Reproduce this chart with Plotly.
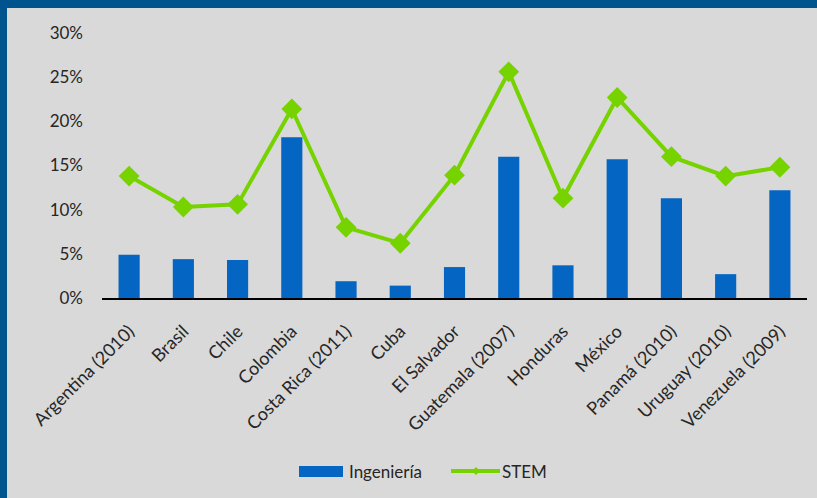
import plotly.graph_objects as go

categories = ["Argentina (2010)", "Brasil", "Chile", "Colombia", "Costa Rica (2011)", "Cuba",
              "El Salvador", "Guatemala (2007)", "Honduras", "México", "Panamá (2010)",
              "Uruguay (2010)", "Venezuela (2009)"]
ingenieria = [0.049, 0.044, 0.043, 0.182, 0.019, 0.014, 0.035, 0.160, 0.037, 0.157, 0.113, 0.027, 0.122]
stem = [0.138, 0.103, 0.106, 0.214, 0.080, 0.062, 0.139, 0.256, 0.113, 0.227, 0.160, 0.138, 0.148]
y_ticks = [0, 0.05, 0.10, 0.15, 0.20, 0.25, 0.30]
y_tick_labels = ["0%", "5%", "10%", "15%", "20%", "25%", "30%"]
series_names = ["Ingeniería", "STEM"]

BLUE = "#0565c2"
GREEN = "#76d300"

W, H = 817, 498
L, R, T, B = 102, 10, 33, 200
pw, ph = W - L - R, H - T - B

def px(x):
    return (x - L) / pw

def py(y):
    return (H - B - y) / ph

fig = go.Figure()
fig.add_trace(go.Bar(x=categories, y=ingenieria, name=series_names[0], showlegend=False,
                     marker=dict(color=BLUE, line=dict(width=0))))
fig.add_trace(go.Scatter(x=categories, y=stem, name=series_names[1], mode="lines+markers",
                         showlegend=False,
                         line=dict(color=GREEN, width=4),
                         marker=dict(symbol="diamond", size=16, color=GREEN)))

# background panel (blue frame visible on left and top)
fig.add_shape(type="rect", xref="paper", yref="paper",
              x0=px(7), x1=px(W + 5), y0=py(H + 5), y1=py(8),
              fillcolor="#d9d9d9", line=dict(width=0), layer="below")

font = dict(family="Lato, 'Open Sans', sans-serif", size=17, color="#262626")
xfont = dict(family="Lato, 'Open Sans', sans-serif", size=18, color="#262626")

# manual legend
fig.add_shape(type="rect", xref="paper", yref="paper",
              x0=px(299), x1=px(343), y0=py(477), y1=py(466),
              fillcolor=BLUE, line=dict(width=0))
fig.add_annotation(xref="paper", yref="paper", x=px(347), y=py(471), text=series_names[0],
                   showarrow=False, xanchor="left", yanchor="middle", font=font)
fig.add_shape(type="line", xref="paper", yref="paper",
              x0=px(451), x1=px(500), y0=py(471), y1=py(471),
              line=dict(color=GREEN, width=4))
dx, dy = 4 / pw, 4 / ph
cx, cy = px(476), py(471)
fig.add_shape(type="path", xref="paper", yref="paper",
              path=f"M {cx-dx} {cy} L {cx} {cy+dy} L {cx+dx} {cy} L {cx} {cy-dy} Z",
              fillcolor=GREEN, line=dict(width=0))
fig.add_annotation(xref="paper", yref="paper", x=px(500), y=py(471), text=series_names[1],
                   showarrow=False, xanchor="left", yanchor="middle", font=font)

fig.update_layout(
    width=W, height=H,
    margin=dict(l=L, r=R, t=T, b=B),
    paper_bgcolor="#00548d",
    plot_bgcolor="rgba(0,0,0,0)",
    font=font,
    bargap=0.61,
    showlegend=False,
    xaxis=dict(range=[-0.5, 12.5], tickangle=-45, showline=True, linecolor="#000000", linewidth=1.5,
               showgrid=False, ticks="", tickfont=xfont, automargin=False, ticklabelstandoff=14),
    yaxis=dict(range=[0, 0.30], tickvals=y_ticks, ticktext=y_tick_labels, showgrid=False,
               zeroline=False, showline=False, ticks="", tickfont=font, ticklabelstandoff=18,
               automargin=False),
)

ps = "document.body.style.margin='0';document.body.style.overflow='hidden';"
fig.write_html("out.html", post_script=ps, config={"displayModeBar": False})
